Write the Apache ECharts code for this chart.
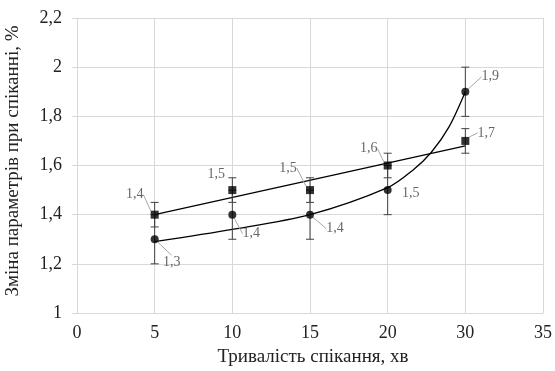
<!DOCTYPE html>
<html><head><meta charset="utf-8">
<script src="https://cdn.jsdelivr.net/npm/echarts@6/dist/echarts.min.js"></script>
<style>html,body{margin:0;padding:0;background:#fff}#c{width:555px;height:371px}</style>
</head><body><div id="c"></div>
<script>
// x positions are category slots: 0..6 -> labels below
const categories = ['0', '5', '10', '15', '20', '30', '35'];
const pointSlots = [1, 2, 3, 4, 5];
const squareValues = [1.4, 1.5, 1.5, 1.6, 1.7];
const circleValues = [1.3, 1.4, 1.4, 1.5, 1.9];
const squareErrors = [0.05, 0.05, 0.05, 0.05, 0.05];
const circleErrors = [0.1, 0.1, 0.1, 0.1, 0.1];
// trend lines
const squareTrendSlots = [1, 5];
const squareTrendValues = [1.40, 1.68];
const circleTrendSlots = [1, 2, 3, 4, 4.32, 4.56, 4.79, 5];
const circleTrendValues = [1.29, 1.34, 1.40, 1.51, 1.58, 1.653, 1.757, 1.90];
const yMin = 1, yMax = 2.2, yStep = 0.2;

// label placement (dx, dy) relative to the marker
const squareLabelShift = [[-20, -20], [-16, -16], [-22, -22], [-19, -17], [21, -8]];
const circleLabelShift = [[17, 23], [19, 19], [25, 14], [23, 3], [25, -15]];
const squareLeader = [true, false, true, true, true];
const circleLeader = [true, true, true, false, true];

const fmt = v => String(+v.toFixed(2)).replace('.', ',');
const serif = '"Liberation Serif","Times New Roman",serif';

const zip = (xs, ys) => xs.map((x, i) => [x, ys[i]]);
const pts = (vals, leaders) => vals.map((v, i) => ({ value: [pointSlots[i], v], labelLine: { show: leaders[i] } }));
const errs = (vals, e) => vals.map((v, i) => [pointSlots[i], v, e[i]]);

function errorRender(params, api) {
  const x = api.value(0), y = api.value(1), e = api.value(2);
  const t = api.coord([x, y + e]), b = api.coord([x, y - e]);
  const w = 4;
  const st = { stroke: '#404040', lineWidth: 1 };
  return { type: 'group', children: [
    { type: 'line', shape: { x1: t[0], y1: t[1], x2: b[0], y2: b[1] }, style: st },
    { type: 'line', shape: { x1: t[0] - w, y1: t[1], x2: t[0] + w, y2: t[1] }, style: st },
    { type: 'line', shape: { x1: b[0] - w, y1: b[1], x2: b[0] + w, y2: b[1] }, style: st }
  ]};
}
const shiftFn = shifts => p => ({ dx: shifts[p.dataIndex][0], dy: shifts[p.dataIndex][1] });
const labelStyle = { show: true, position: 'inside', formatter: p => fmt(p.value[1]),
  fontFamily: serif, fontSize: 14, color: '#404040' };
const leaderStyle = { show: true, length2: 0, lineStyle: { color: '#a6a6a6', width: 1 } };

const chart = echarts.init(document.getElementById('c'));
chart.setOption({
  animation: false,
  grid: { left: 77, right: 10, top: 18, bottom: 58 },
  xAxis: {
    type: 'value', min: 0, max: categories.length - 1, interval: 1,
    axisLine: { lineStyle: { color: '#d9d9d9' } },
    axisTick: { show: false },
    axisLabel: { fontFamily: serif, fontSize: 18, color: '#222', margin: 11, formatter: v => categories[v] },
    splitLine: { show: true, lineStyle: { color: '#d9d9d9' } }
  },
  yAxis: {
    type: 'value', min: yMin, max: yMax, interval: yStep,
    axisLine: { show: true, lineStyle: { color: '#d9d9d9' } },
    axisLabel: { fontFamily: serif, fontSize: 18, color: '#222', margin: 15, formatter: v => fmt(v) },
    splitLine: { show: true, lineStyle: { color: '#d9d9d9' } }
  },
  graphic: [
    { type: 'text', x: 313, y: 357, style: { text: 'Тривалість спікання, хв', font: '19px ' + serif, fill: '#222', align: 'center', verticalAlign: 'middle' } },
    { type: 'text', x: 13, y: 161, rotation: Math.PI / 2, style: { text: 'Зміна параметрів при спіканні, %', font: '19px ' + serif, fill: '#222', align: 'center', verticalAlign: 'middle' } }
  ],
  series: [
    { type: 'line', data: zip(squareTrendSlots, squareTrendValues), showSymbol: false, symbol: 'none', lineStyle: { color: '#000', width: 1.3 }, z: 2, silent: true },
    { type: 'line', data: zip(circleTrendSlots, circleTrendValues), showSymbol: false, symbol: 'none', smooth: 0.3, lineStyle: { color: '#000', width: 1.3 }, z: 2, silent: true },
    { type: 'custom', data: errs(squareValues, squareErrors), renderItem: errorRender, z: 3, silent: true },
    { type: 'custom', data: errs(circleValues, circleErrors), renderItem: errorRender, z: 3, silent: true },
    { type: 'scatter', data: pts(squareValues, squareLeader), symbol: 'rect', symbolSize: 8,
      itemStyle: { color: '#000' }, z: 5, label: labelStyle, labelLine: leaderStyle,
      labelLayout: shiftFn(squareLabelShift) },
    { type: 'scatter', data: pts(circleValues, circleLeader), symbol: 'circle', symbolSize: 8,
      itemStyle: { color: '#000' }, z: 5, label: labelStyle, labelLine: leaderStyle,
      labelLayout: shiftFn(circleLabelShift) }
  ]
});
</script></body></html>
